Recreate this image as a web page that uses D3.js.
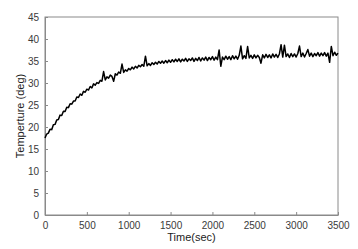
<!DOCTYPE html>
<html>
<head>
<meta charset="utf-8">
<script src="https://cdn.jsdelivr.net/npm/d3@7"></script>
<style>
  body { margin: 0; background: #fff; }
  text { font-family: "Liberation Sans", Arial, sans-serif; }
</style>
</head>
<body>
<div id="chart"></div>
<script>
const svgWidth = 358
const svgHeight = 249

let margin = { top: 17, right: 20, bottom: 34, left: 45 }
let width = svgWidth - margin.left - margin.right
let height = svgHeight - margin.top - margin.bottom

// samples every 20 sec
const timeStep = 20
const temps = [
  17.5, 18.4, 18.6, 19.5, 19.4, 20.5, 20.6, 21.6, 21.7, 22.7,
  22.6, 23.6, 23.5, 24.5, 24.4, 25.3, 25.2, 25.9, 25.9, 26.8,
  26.7, 27.5, 27.2, 28.1, 27.9, 28.6, 28.4, 29.2, 28.9, 29.8,
  29.5, 30.1, 29.9, 30.6, 30.4, 32.6, 30.7, 31.4, 31.1, 31.8,
  31.5, 30.4, 32.1, 31.8, 32.5, 32.2, 34.3, 32.4, 33.0, 32.7,
  33.3, 33.0, 33.6, 33.2, 33.8, 33.4, 34.0, 33.7, 34.2, 33.8,
  36.1, 33.9, 34.4, 34.0, 34.6, 34.2, 34.7, 34.3, 34.9, 34.5,
  35.0, 34.5, 35.1, 34.6, 35.2, 34.7, 35.3, 34.8, 35.4, 34.9,
  35.5, 34.8, 35.4, 35.0, 35.6, 34.9, 35.5, 35.1, 35.7, 34.9,
  35.6, 35.1, 35.8, 35.0, 35.7, 35.2, 35.9, 35.1, 35.8, 35.3,
  36.0, 35.2, 35.9, 35.3, 37.5, 33.8, 35.9, 35.3, 36.1, 35.4,
  36.0, 35.3, 36.2, 35.5, 36.1, 35.4, 36.3, 38.4, 35.5, 36.2,
  35.6, 38.3, 35.7, 36.3, 35.6, 36.4, 35.7, 36.3, 35.8, 34.5,
  36.4, 35.7, 36.5, 35.8, 36.4, 35.7, 36.6, 35.9, 36.5, 35.8,
  36.6, 38.7, 35.9, 38.6, 36.0, 36.6, 35.8, 36.7, 36.0, 36.6,
  35.9, 36.7, 38.4, 36.0, 36.8, 35.9, 36.7, 37.6, 36.1, 36.8,
  36.0, 36.7, 36.2, 36.9, 36.1, 36.8, 36.2, 36.9, 36.1, 36.8,
  34.7, 38.3, 36.2, 37.0, 36.3, 36.8
]
const xTicks = [0, 500, 1000, 1500, 2000, 2500, 3000, 3500]
const yTicks = [0, 5, 10, 15, 20, 25, 30, 35, 40, 45]

let svg = d3
  .select("#chart")
  .append("svg")
  .attr("width", svgWidth)
  .attr("height", svgHeight)

let chartGroup = svg
  .append("g")
  .attr("transform", `translate(${margin.left}, ${margin.top})`)

let xScale = d3.scaleLinear().domain([0, 3500]).range([0, width])
let yScale = d3.scaleLinear().domain([0, 45]).range([height, 0])

// frame
chartGroup
  .append("rect")
  .attr("width", width)
  .attr("height", height)
  .attr("fill", "none")
  .attr("stroke", "#8a8a8a")
  .attr("stroke-width", 1)

let bottomAxis = d3.axisBottom(xScale).tickValues(xTicks).tickFormat(d3.format("d"))
  .tickSizeInner(-3).tickSizeOuter(0).tickPadding(7)
let leftAxis = d3.axisLeft(yScale).tickValues(yTicks).tickFormat(d3.format("d"))
  .tickSizeInner(-3).tickSizeOuter(0).tickPadding(6)

let xAxis = chartGroup
  .append("g")
  .attr("transform", `translate(0, ${height})`)
  .call(bottomAxis)

let yAxis = chartGroup.append("g").call(leftAxis)

;[xAxis, yAxis].forEach(ax => {
  ax.select(".domain").attr("stroke", "#8a8a8a")
  ax.selectAll(".tick line").attr("stroke", "#8a8a8a")
  ax.selectAll(".tick text").attr("fill", "#3a3a3a").attr("font-size", "10px")
})

let line = d3.line()
  .x((d, i) => xScale(i * timeStep))
  .y(d => yScale(d))

chartGroup
  .append("path")
  .datum(temps)
  .attr("fill", "none")
  .attr("stroke", "#000")
  .attr("stroke-width", 1.5)
  .attr("stroke-linejoin", "round")
  .attr("d", line)

chartGroup
  .append("text")
  .attr("x", width / 2)
  .attr("y", height + 26)
  .attr("text-anchor", "middle")
  .attr("font-size", "11px")
  .attr("fill", "#222")
  .text("Time(sec)")

chartGroup
  .append("text")
  .attr("transform", "rotate(-90)")
  .attr("x", -height / 2)
  .attr("y", -21)
  .attr("text-anchor", "middle")
  .attr("font-size", "11px")
  .attr("fill", "#222")
  .text("Temperture (deg)")
</script>
</body>
</html>
